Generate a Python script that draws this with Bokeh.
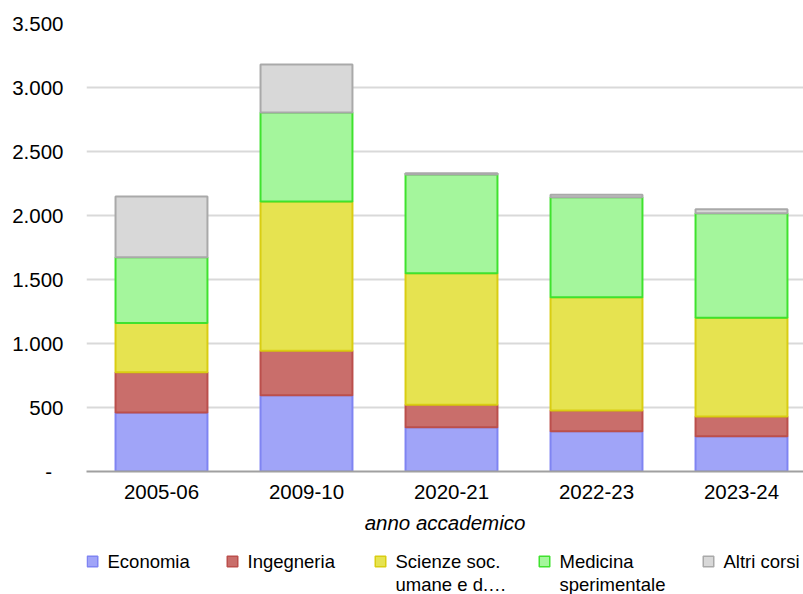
from bokeh.plotting import figure
from bokeh.models import ColumnDataSource, FixedTicker, Range1d
from bokeh.layouts import column
from bokeh.core.properties import value
from bokeh.embed import file_html
from bokeh.resources import INLINE

years = ["2005-06", "2009-10", "2020-21", "2022-23", "2023-24"]
economia = [460, 595, 346, 315, 276]
ingegneria = [315, 348, 175, 162, 154]
scienze = [385, 1166, 1028, 885, 771]
medicina = [513, 696, 771, 781, 817]
altri = [475, 375, 10, 19, 31]

series_names = ["Economia", "Ingegneria", "Scienze soc.\numane e d.…", "Medicina\nsperimentale", "Altri corsi"]
series_values = [economia, ingegneria, scienze, medicina, altri]
fills = ["#a0a4f8", "#c96e6b", "#e6e350", "#a4f69c", "#d8d8d8"]
lines = ["#7f84f2", "#bb4f4c", "#d9cd12", "#3fe22e", "#a9a9a9"]

y_ticks = [0, 500, 1000, 1500, 2000, 2500, 3000, 3500]
y_labels = {0: "-\u00a0\u00a0", 500: "500", 1000: "1.000", 1500: "1.500", 2000: "2.000",
            2500: "2.500", 3000: "3.000", 3500: "3.500"}

# legend layout (pixel positions of the swatches inside the legend strip)
legend_swatch_x = [86, 226, 374, 538, 702]

FONT = "Liberation Sans"
FS = "20.5px"
FRAME_LEFT = 86

x = list(range(len(years)))
p = figure(width=803, height=536, output_backend="svg", toolbar_location=None,
           x_range=(-0.5172, 4.4276), y_range=(0, 3500),
           min_border_left=FRAME_LEFT, min_border_right=0, min_border_top=23, min_border_bottom=65)
p.outline_line_color = None
p.background_fill_color = "white"
p.border_fill_color = "white"

bottoms = [0] * len(years)
for name, vals, fc, lc in zip(series_names, series_values, fills, lines):
    tops = [b + v for b, v in zip(bottoms, vals)]
    src = ColumnDataSource(dict(x=x, bottom=bottoms, top=tops))
    p.vbar(x="x", bottom="bottom", top="top", width=0.634, source=src,
           fill_color=fc, line_color=lc, line_width=2)
    bottoms = tops

p.xgrid.grid_line_color = None
p.ygrid.grid_line_color = "#d9d9d9"
p.ygrid.grid_line_width = 2
p.ygrid.ticker = FixedTicker(ticks=y_ticks)

p.yaxis.ticker = FixedTicker(ticks=y_ticks)
p.yaxis.major_label_overrides = y_labels
p.yaxis.axis_line_color = None
p.yaxis.major_tick_line_color = None
p.yaxis.major_tick_out = 0
p.yaxis.minor_tick_line_color = None
p.yaxis.major_label_standoff = 23
p.yaxis.major_label_text_font = FONT
p.yaxis.major_label_text_font_size = FS
p.yaxis.major_label_text_color = "#000000"

p.xaxis.ticker = FixedTicker(ticks=x)
p.xaxis.major_label_overrides = {i: y for i, y in enumerate(years)}
p.xaxis.axis_line_color = "#a0a0a0"
p.xaxis.axis_line_width = 2
p.xaxis.major_tick_line_color = None
p.xaxis.minor_tick_line_color = None
p.xaxis.major_label_standoff = 7
p.xaxis.major_label_text_font = FONT
p.xaxis.major_label_text_font_size = FS
p.xaxis.major_label_text_color = "#000000"
p.xaxis.axis_label = "anno accademico"
p.xaxis.axis_label_text_font = FONT
p.xaxis.axis_label_text_font_size = FS
p.xaxis.axis_label_text_font_style = "italic"
p.xaxis.axis_label_text_color = "#000000"
p.xaxis.axis_label_standoff = 9

# legend strip (x in page pixels, its frame is aligned with the chart frame; y measured downward)
leg = figure(width=803, height=58, output_backend="svg", toolbar_location=None,
             x_range=Range1d(FRAME_LEFT, 803), y_range=Range1d(58, 0),
             x_axis_location=None, y_axis_location=None,
             min_border_left=FRAME_LEFT, min_border_right=0, min_border_top=0, min_border_bottom=0)
leg.grid.visible = False
leg.outline_line_color = None
leg.background_fill_color = "white"
leg.border_fill_color = "white"

leg_src = ColumnDataSource(dict(
    sx=[v + 6 for v in legend_swatch_x],
    tx=[v + 21 for v in legend_swatch_x],
    name=series_names, fill=fills, line=lines))
leg.rect(x="sx", y=25, width=10.5, height=10.5, source=leg_src,
         fill_color="fill", line_color="line", line_width=1.5)
leg.text(x="tx", y=14, text="name", source=leg_src,
         text_font=value(FONT), text_font_size="18.5px", text_color="#000000",
         text_baseline="top", text_align="left", text_line_height=1.1)

layout = column(p, leg, spacing=0)
open("out.html", "w").write(file_html(layout, INLINE))
